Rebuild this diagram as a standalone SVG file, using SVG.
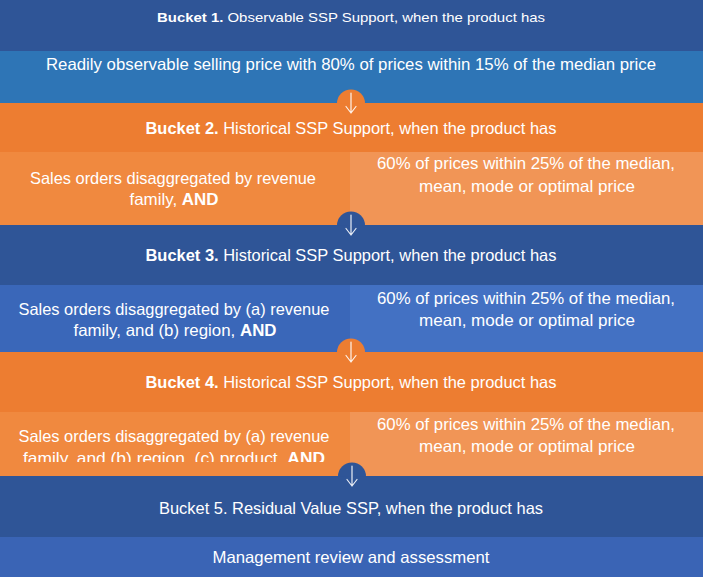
<svg xmlns="http://www.w3.org/2000/svg" width="703" height="577" viewBox="0 0 703 577">
<style>
  text { font-family: "Liberation Sans", Arial, sans-serif; fill: #FFFFFF; text-anchor: middle; }
  .h { font-size: 16.5px; }
  .s { font-size: 13.5px; }
  .b { font-weight: bold; }
  .arr { fill: none; stroke: #FFFFFF; stroke-width: 1.2; stroke-opacity: 0.9; stroke-linecap: round; stroke-linejoin: round; }
</style>
<defs>
  <clipPath id="clip4"><rect x="0" y="411" width="350" height="51"/></clipPath>
</defs>

<g id="bucket1">
  <rect x="0" y="0" width="703" height="51" fill="#2F5597"/>
  <text class="s" x="351" y="22" textLength="388" lengthAdjust="spacingAndGlyphs"><tspan class="b">Bucket 1.</tspan> Observable SSP Support, when the product has</text>
</g>
<g id="bucket1-criteria">
  <rect x="0" y="51" width="703" height="52" fill="#2E75B6"/>
  <text class="h" x="351" y="70" textLength="610" lengthAdjust="spacingAndGlyphs">Readily observable selling price with 80% of prices within 15% of the median price</text>
</g>

<g id="bucket2">
  <rect x="0" y="103" width="703" height="49" fill="#ED7D31"/>
  <text class="h" x="351" y="134" textLength="411" lengthAdjust="spacingAndGlyphs"><tspan class="b">Bucket 2.</tspan> Historical SSP Support, when the product has</text>
</g>
<g id="bucket2-left">
  <rect x="0" y="152" width="350" height="73" fill="#F0893F"/>
  <text class="h" x="173" y="184" textLength="286" lengthAdjust="spacingAndGlyphs">Sales orders disaggregated by revenue</text>
  <text class="h" x="174" y="205" textLength="89" lengthAdjust="spacingAndGlyphs">family, <tspan class="b">AND</tspan></text>
</g>
<g id="bucket2-right">
  <rect x="350" y="152" width="353" height="73" fill="#F19556"/>
  <text class="h" x="526" y="169" textLength="298" lengthAdjust="spacingAndGlyphs">60% of prices within 25% of the median,</text>
  <text class="h" x="527" y="192" textLength="216" lengthAdjust="spacingAndGlyphs">mean, mode or optimal price</text>
</g>

<g id="bucket3">
  <rect x="0" y="225" width="703" height="60" fill="#2F5597"/>
  <text class="h" x="351" y="261" textLength="411" lengthAdjust="spacingAndGlyphs"><tspan class="b">Bucket 3.</tspan> Historical SSP Support, when the product has</text>
</g>
<g id="bucket3-left">
  <rect x="0" y="285" width="350" height="67" fill="#3A67B9"/>
  <text class="h" x="174" y="315" textLength="311" lengthAdjust="spacingAndGlyphs">Sales orders disaggregated by (a) revenue</text>
  <text class="h" x="175" y="336" textLength="203" lengthAdjust="spacingAndGlyphs">family, and (b) region, <tspan class="b">AND</tspan></text>
</g>
<g id="bucket3-right">
  <rect x="350" y="285" width="353" height="67" fill="#4371C3"/>
  <text class="h" x="526" y="304" textLength="298" lengthAdjust="spacingAndGlyphs">60% of prices within 25% of the median,</text>
  <text class="h" x="527" y="326" textLength="216" lengthAdjust="spacingAndGlyphs">mean, mode or optimal price</text>
</g>

<g id="bucket4">
  <rect x="0" y="352" width="703" height="60" fill="#ED7D31"/>
  <text class="h" x="351" y="388" textLength="411" lengthAdjust="spacingAndGlyphs"><tspan class="b">Bucket 4.</tspan> Historical SSP Support, when the product has</text>
</g>
<g id="bucket4-left">
  <rect x="0" y="412" width="350" height="64" fill="#F0893F"/>
  <g clip-path="url(#clip4)">
    <text class="h" x="174" y="442" textLength="311" lengthAdjust="spacingAndGlyphs">Sales orders disaggregated by (a) revenue</text>
    <text class="h" x="174" y="464" textLength="302" lengthAdjust="spacingAndGlyphs">family, and (b) region, (c) product, <tspan class="b">AND</tspan></text>
  </g>
</g>
<g id="bucket4-right">
  <rect x="350" y="412" width="353" height="64" fill="#F19556"/>
  <text class="h" x="526" y="430" textLength="298" lengthAdjust="spacingAndGlyphs">60% of prices within 25% of the median,</text>
  <text class="h" x="527" y="452" textLength="216" lengthAdjust="spacingAndGlyphs">mean, mode or optimal price</text>
</g>

<g id="bucket5">
  <rect x="0" y="476" width="703" height="61" fill="#2F5597"/>
  <text class="h" x="351" y="514" textLength="384" lengthAdjust="spacingAndGlyphs">Bucket 5. Residual Value SSP, when the product has</text>
</g>
<g id="bucket5-criteria">
  <rect x="0" y="537" width="703" height="40" fill="#3A64B5"/>
  <text class="h" x="351" y="563" textLength="277" lengthAdjust="spacingAndGlyphs">Management review and assessment</text>
</g>

<g id="connectors">
  <path d="M337 103.5 A14 14 0 0 1 365 103.5 Z" fill="#ED7D31"/>
  <path class="arr" d="M351 93 V113 M346 106.5 L351 113 L356 106.5"/>
  <path d="M337 225.5 A14 14 0 0 1 365 225.5 Z" fill="#2F5597"/>
  <path class="arr" d="M351 215 V235 M346 228.5 L351 235 L356 228.5"/>
  <path d="M337 352.5 A14 14 0 0 1 365 352.5 Z" fill="#ED7D31"/>
  <path class="arr" d="M351 342 V362 M346 355.5 L351 362 L356 355.5"/>
  <path d="M338 476.5 A14 14 0 0 1 366 476.5 Z" fill="#2F5597"/>
  <path class="arr" d="M352 466 V486 M347 479.5 L352 486 L357 479.5"/>
</g>
</svg>
